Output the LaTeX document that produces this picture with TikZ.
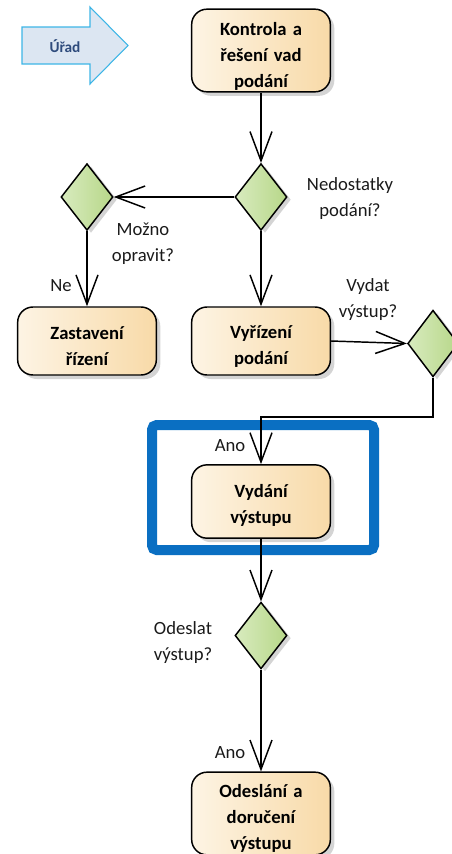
\documentclass[tikz,border=0pt]{standalone}
\usepackage{fontspec}
\setmainfont{Carlito}
\usetikzlibrary{arrows.meta,shapes.geometric,shadows}

\definecolor{boxleft}{HTML}{FDF4E4}
\definecolor{boxright}{HTML}{F8DAA8}
\definecolor{decleft}{HTML}{D8EBBE}
\definecolor{decright}{HTML}{B7D789}
\definecolor{shade}{HTML}{D4D4D4}
\definecolor{frameblue}{HTML}{0A6FC2}
\definecolor{laneedge}{HTML}{3DB5E6}
\definecolor{lanefill}{HTML}{DCE6F2}
\definecolor{lanetext}{HTML}{2E4B7C}
\definecolor{labeltext}{HTML}{1A1A1A}

\tikzset{
  txt/.style={font=\fontsize{14}{19.5}\selectfont, align=center, inner sep=0pt},
  action/.style={rectangle, rounded corners=11.5pt, draw=black, line width=1.1pt,
    left color=boxleft, right color=boxright, minimum width=104pt, inner sep=0pt,
    drop shadow={shadow xshift=3pt, shadow yshift=-3pt, fill=shade, opacity=1}},
  actiontext/.style={txt, font=\bfseries\fontsize{14}{19.5}\selectfont, text width=95pt},
  decision/.style={diamond, draw=black, line width=1.1pt, inner sep=0pt,
    minimum width=39pt, minimum height=50pt,
    left color=decleft, right color=decright,
    drop shadow={shadow xshift=3pt, shadow yshift=-2pt, fill=shade, opacity=1}},
  guard/.style={txt, text=labeltext},
  flow/.style={line width=1.1pt, draw=black,
    -{Straight Barb[length=22pt, width=16.5pt, line width=1.1pt]}},
}

\begin{document}
\begin{tikzpicture}[x=0.75pt, y=-0.75pt]
\useasboundingbox (0,0) rectangle (452,854);

% lane marker arrow
\draw[draw=laneedge, fill=lanefill, line width=0.8pt]
  (22,27) -- (90,27) -- (90,7) -- (128,45.5) -- (90,84) -- (90,64) -- (22,64) -- cycle;
\node[txt, font=\bfseries\fontsize{11.5}{14}\selectfont, text=lanetext] (urad) at (65,46) {Úřad};

% highlight frame
\draw[frameblue, line width=7.5pt, rounded corners=3.5pt] (152,425) rectangle (374,550);

% actions: box first, its text set a little below the centre
\node[action, minimum height=62pt] (kontrola) at (261,50.5) {};
\node[actiontext] (kontrolaT) at ([yshift=-4.5pt]kontrola.center) {Kontrola a\\ řešení vad\\ podání};
\node[action, minimum height=51pt] (zast) at (87,341) {};
\node[actiontext] (zastT) at ([yshift=-4pt]zast.center) {Zastavení\\ řízení};
\node[action, minimum height=51pt] (vyr) at (261,341) {};
\node[actiontext] (vyrT) at ([yshift=-4pt]vyr.center) {Vyřízení\\ podání};
\node[action, minimum height=55pt] (vyd) at (261,501.5) {};
\node[actiontext] (vydT) at ([yshift=-3pt]vyd.center) {Vydání\\ výstupu};
\node[action, minimum height=62pt] (odes) at (261,813.5) {};
\node[actiontext] (odesT) at ([yshift=-4pt]odes.center) {Odeslání a\\ doručení\\ výstupu};

% decisions
\node[decision] (d1) at (261,197) {};
\node[decision] (d2) at (87,197) {};
\node[decision, minimum width=38pt] (d3) at (433,343.5) {};
\node[decision] (d4) at (261,635.5) {};

% guards
\node[guard] (g1) at (350,199) {Nedostatky\\ podání?};
\node[guard] (g2) at (143,244) {Možno\\ opravit?};
\node[guard] (g3) at (61,286) {Ne};
\node[guard] (g4) at (368,300) {Vydat\\ výstup?};
\node[guard] (g5) at (230,446) {Ano};
\node[guard] (g6) at (183,643) {Odeslat\\ výstup?};
\node[guard] (g7) at (230,753) {Ano};

% flows
\coordinate (bend) at (261,417);
\draw[flow] (kontrola.south) -- (d1.north);
\draw[flow] (d1.west) -- (d2.east);
\draw[flow] (d2.south) -- (zast.north);
\draw[flow] (d1.south) -- (vyr.north);
\draw[flow] (vyr.east) -- (d3.west);
\draw[flow] (d3.south) |- (bend) -- (vyd.north);
\draw[flow] (vyd.south) -- (d4.north);
\draw[flow] (d4.south) -- (odes.north);
\end{tikzpicture}
\end{document}
